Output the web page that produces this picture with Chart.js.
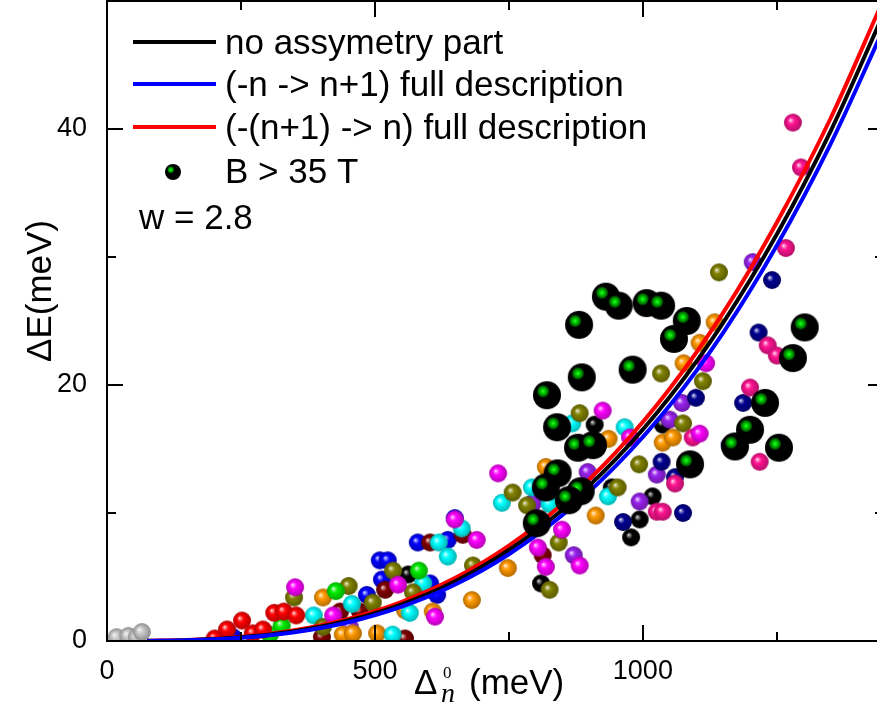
<!DOCTYPE html>
<html>
<head>
<meta charset="utf-8">
<script src="https://cdn.jsdelivr.net/npm/chart.js@4.4.0/dist/chart.umd.min.js"></script>
<style>
  html, body { margin: 0; padding: 0; background: #fff; overflow: hidden; }
  #wrap { position: relative; width: 885px; height: 709px; }
</style>
</head>
<body>
<div id="wrap"><canvas id="chart"></canvas></div>
<script>
const FONT = "'Liberation Sans', Arial, sans-serif";
const SERIF = "'Liberation Serif', 'Times New Roman', serif";

// axis ticks
const xTicks = [0, 500, 1000];
const xMinor = [250, 750, 1250];
const yTicks = [0, 20, 40];
const yMinor = [10, 30, 50];

// model curves, sampled off the figure
const curveX   = [75, 150, 250, 350, 450, 550, 650, 750, 850, 950, 1050, 1150, 1250, 1350, 1450];
const noAsym   = [0.01, 0.06, 0.29, 0.76, 1.6, 2.87, 4.67, 7.11, 10.26, 14.22, 19.06, 24.88, 31.77, 39.8, 49.07];
const fwdFull  = [0.005, 0.05, 0.25, 0.69, 1.47, 2.69, 4.42, 6.78, 9.84, 13.7, 18.4, 24.1, 30.9, 38.8, 47.9];  // (-n -> n+1)
const bwdFull  = [0.012, 0.08, 0.33, 0.84, 1.72, 3.06, 4.93, 7.45, 10.7, 14.75, 19.7, 25.65, 32.7, 40.8, 50.2]; // (-(n+1) -> n)

// measured points, [x, y], one list per colour
const greyPts    = [[18,0.3],[40,0.4],[56,0.3],[65,0.7]];
const redPts     = [[201,0.2],[224,0.9],[252,1.6],[272,0.6],[291,0.9],[312,2.2],[330,2.3],[353,2.0]];
const greenPts   = [[304,0.5],[326,1.2],[427,3.9],[582,5.5]];
const magentaPts = [[351,4.2],[422,2.0],[543,4.4],[612,1.9],[649,9.5],[690,7.9],[730,13.1],[804,7.3],[819,5.8],[849,8.7],[882,5.9],[925,18.0],[976,15.9],[1106,16.2],[1118,21.7]];
const pinkPts    = [[1026,10.1],[1037,10.1],[1060,12.3],[1093,15.9],[1200,19.8],[1218,14.0],[1233,23.1],[1250,22.3],[1267,30.7],[1280,40.5],[1295,37.0]];
const olivePts   = [[349,3.4],[403,1.1],[451,4.3],[496,3.0],[534,5.5],[571,3.8],[683,5.9],[757,11.6],[784,10.6],[826,4.0],[843,7.7],[882,17.8],[953,12.0],[993,13.8],[1034,20.9],[1075,17.0],[1112,20.3],[1142,28.8]];
const cyanPts    = [[386,2.0],[457,2.9],[533,0.5],[565,2.2],[590,4.5],[619,7.7],[636,6.6],[662,8.8],[737,10.8],[793,12.0],[826,10.7],[868,17.0],[935,11.3],[966,16.7]];
const orangePts  = [[403,3.4],[440,0.5],[459,0.6],[504,0.6],[556,2.4],[608,2.3],[681,3.2],[748,5.7],[819,13.6],[912,9.8],[936,15.8],[1037,15.5],[1056,15.9],[1076,21.7],[1106,23.3],[1134,24.9]];
const maroonPts  = [[401,0.3],[435,2.3],[472,2.3],[519,4.0],[556,0.2],[603,7.7],[664,8.3],[813,6.7]];
const bluePts    = [[235,0.3],[485,3.6],[509,6.3],[513,4.8],[524,6.3],[580,7.7],[603,4.5],[616,3.6],[636,7.9],[649,9.6]];
const navyPts    = [[963,9.3],[1035,14.0],[1060,12.8],[1075,10.0],[1099,19.0],[1162,15.3],[1187,18.6],[1216,24.1],[1241,28.2]];
const purplePts  = [[453,1.1],[795,10.8],[871,6.7],[897,13.2],[994,10.9],[1026,13.0],[1050,17.3],[1073,18.6],[1205,29.6]];
const blackPts   = [[562,5.2],[810,4.5],[910,16.9],[942,12.0],[978,8.1],[994,9.5],[1018,11.3],[1037,16.9]];

// B > 35 T
const highFieldPts = [[931,26.9],[955,26.2],[1007,26.4],[1034,26.2],[1082,25.0],[1058,23.6],[881,24.7],[981,21.2],[886,20.6],
  [821,19.2],[840,16.7],[879,15.1],[907,15.3],[841,13.1],[819,12.0],[884,11.7],[862,11.0],[802,9.2],[1088,13.8],
  [1302,24.5],[1280,22.1],[1228,18.6],[1200,16.5],[1172,15.2],[1254,15.1]];

const legendLabels = ["no assymetry part", "(-n -> n+1) full description", "(-(n+1) -> n) full description", "B > 35 T"];
const noteText = "w = 2.8";

function hexRgb(h) {
  h = h.replace('#', '');
  return [parseInt(h.slice(0,2),16), parseInt(h.slice(2,4),16), parseInt(h.slice(4,6),16)];
}
function mix(a, b, t) {
  const A = hexRgb(a), B = hexRgb(b);
  const c = A.map((v, i) => Math.round(v + (B[i] - v) * t));
  return `rgb(${c[0]},${c[1]},${c[2]})`;
}

// shaded ball sprite
function ball(color, r) {
  const c = document.createElement('canvas');
  const s = 2 * r + 2;
  c.width = s; c.height = s;
  const g = c.getContext('2d');
  const cx = s / 2, cy = s / 2;
  const grad = g.createRadialGradient(cx - r * 0.3, cy - r * 0.3, 0, cx, cy, r);
  grad.addColorStop(0, '#ffffff');
  grad.addColorStop(0.13, mix(color, '#ffffff', 0.55));
  grad.addColorStop(0.38, color);
  grad.addColorStop(1, mix(color, '#000000', 0.3));
  g.fillStyle = grad;
  g.beginPath(); g.arc(cx, cy, r, 0, Math.PI * 2); g.fill();
  return c;
}

// black ball with green core
function bigBall(r) {
  const c = document.createElement('canvas');
  const s = 2 * r + 2;
  c.width = s; c.height = s;
  const g = c.getContext('2d');
  const cx = s / 2, cy = s / 2;
  g.fillStyle = '#000';
  g.beginPath(); g.arc(cx, cy, r, 0, Math.PI * 2); g.fill();
  const gx = cx - r * 0.28, gy = cy - r * 0.28;
  const grad = g.createRadialGradient(gx, gy, 0, gx, gy, r * 0.5);
  grad.addColorStop(0, '#30ff30');
  grad.addColorStop(0.3, '#00d000');
  grad.addColorStop(0.75, '#006000');
  grad.addColorStop(1, 'rgba(0,0,0,0)');
  g.fillStyle = grad;
  g.beginPath(); g.arc(gx, gy, r * 0.5, 0, Math.PI * 2); g.fill();
  return c;
}

const toXY = arr => arr.map(p => ({ x: p[0], y: p[1] }));
const curve = ys => curveX.map((x, i) => ({ x, y: ys[i] }));

const smallGroups = [
  [greyPts, '#c8c8c8'], [redPts, '#ff0000'], [greenPts, '#00ee00'], [magentaPts, '#ff00ff'],
  [pinkPts, '#ff1493'], [olivePts, '#808000'], [cyanPts, '#00ffff'], [orangePts, '#ff9900'],
  [maroonPts, '#800000'], [bluePts, '#0000ff'], [navyPts, '#000090'], [purplePts, '#9922ee'],
  [blackPts, '#000000']
];

const datasets = [];
datasets.push({ data: toXY(highFieldPts), pointStyle: bigBall(14), pointRadius: 14, order: 0, clip: 0 });
datasets.push({ data: curve(fwdFull), showLine: true, borderColor: '#0000ff', borderWidth: 4, pointRadius: 0, cubicInterpolationMode: 'monotone', order: 1, clip: 0 });
datasets.push({ data: curve(noAsym), showLine: true, borderColor: '#000000', borderWidth: 4, pointRadius: 0, cubicInterpolationMode: 'monotone', order: 1, clip: 0 });
datasets.push({ data: curve(bwdFull), showLine: true, borderColor: '#ff0000', borderWidth: 4, pointRadius: 0, cubicInterpolationMode: 'monotone', order: 1, clip: 0 });
smallGroups.forEach(([pts, col]) => {
  datasets.push({ data: toXY(pts), pointStyle: ball(col, 9), pointRadius: 9, order: 2, clip: 0 });
});

const legendBall = bigBall(8);

// frame, inward ticks, legend and axis titles
const decor = {
  id: 'decor',
  afterDraw(chart) {
    const ctx = chart.ctx;
    const a = chart.chartArea;
    const xs = chart.scales.x, ys = chart.scales.y;
    ctx.save();
    ctx.strokeStyle = '#000';
    ctx.lineWidth = 2;
    ctx.strokeRect(a.left, a.top, a.right - a.left, a.bottom - a.top);

    ctx.beginPath();
    const xMark = (v, len) => {
      const px = Math.round(xs.getPixelForValue(v));
      ctx.moveTo(px, a.bottom); ctx.lineTo(px, a.bottom - len);
      ctx.moveTo(px, a.top); ctx.lineTo(px, a.top + len);
    };
    const yMark = (v, len) => {
      const py = Math.round(ys.getPixelForValue(v));
      ctx.moveTo(a.left, py); ctx.lineTo(a.left + len, py);
      ctx.moveTo(a.right, py); ctx.lineTo(a.right - len, py);
    };
    xTicks.forEach(v => xMark(v, 16));
    xMinor.forEach(v => xMark(v, 9));
    yTicks.forEach(v => yMark(v, 16));
    yMinor.forEach(v => yMark(v, 9));
    ctx.stroke();

    // legend
    const rows = [42, 84, 127, 171];
    const cols = ['#000000', '#0000ff', '#ff0000'];
    ctx.lineWidth = 4;
    for (let i = 0; i < 3; i++) {
      ctx.strokeStyle = cols[i];
      ctx.beginPath(); ctx.moveTo(133, rows[i]); ctx.lineTo(216, rows[i]); ctx.stroke();
    }
    ctx.drawImage(legendBall, 173 - legendBall.width / 2, 172 - legendBall.height / 2);
    ctx.fillStyle = '#000';
    ctx.font = `35px ${FONT}`;
    ctx.textBaseline = 'alphabetic';
    ctx.textAlign = 'left';
    legendLabels.forEach((s, i) => ctx.fillText(s, 225, rows[i] + 12));
    ctx.fillText(noteText, 139, 229);

    // y title
    ctx.save();
    ctx.translate(41, 291);
    ctx.rotate(-Math.PI / 2);
    ctx.textAlign = 'center';
    ctx.textBaseline = 'middle';
    ctx.font = `35px ${FONT}`;
    ctx.fillText('\u0394E(meV)', 0, 0);
    ctx.restore();

    // x title: Delta_n^0 (meV)
    ctx.font = `35px ${FONT}`;
    ctx.fillText('\u0394', 414, 694);
    ctx.font = `17px ${SERIF}`;
    ctx.fillText('0', 443, 678);
    ctx.font = `italic 28px ${SERIF}`;
    ctx.fillText('n', 441, 702);
    ctx.font = `35px ${FONT}`;
    ctx.fillText('(meV)', 469, 694);
    ctx.restore();
  }
};

new Chart(document.getElementById('chart'), {
  type: 'scatter',
  data: { datasets },
  options: {
    responsive: true,
    maintainAspectRatio: false,
    animation: false,
    layout: { autoPadding: false, padding: { top: 1, right: 1, left: 0, bottom: 0 } },
    plugins: { legend: { display: false }, tooltip: { enabled: false } },
    scales: {
      x: {
        type: 'linear', min: 0, max: 1450,
        afterBuildTicks: s => { s.ticks = xTicks.map(v => ({ value: v })); },
        afterFit: s => { s.height = 68; s.paddingLeft = 0; s.paddingRight = 0; },
        grid: { display: false, drawTicks: false },
        border: { display: false },
        ticks: {
          autoSkip: false, maxRotation: 0, padding: 14,
          color: '#000', font: { family: FONT, size: 27 },
          callback: v => String(v)
        }
      },
      y: {
        type: 'linear', min: 0, max: 50,
        afterBuildTicks: s => { s.ticks = yTicks.map(v => ({ value: v })); },
        afterFit: s => { s.width = 107; s.paddingTop = 0; s.paddingBottom = 0; },
        grid: { display: false, drawTicks: false },
        border: { display: false },
        ticks: {
          autoSkip: false, padding: 20,
          color: '#000', font: { family: FONT, size: 27 },
          callback: v => String(v)
        }
      }
    }
  },
  plugins: [decor]
});
</script>
</body>
</html>
